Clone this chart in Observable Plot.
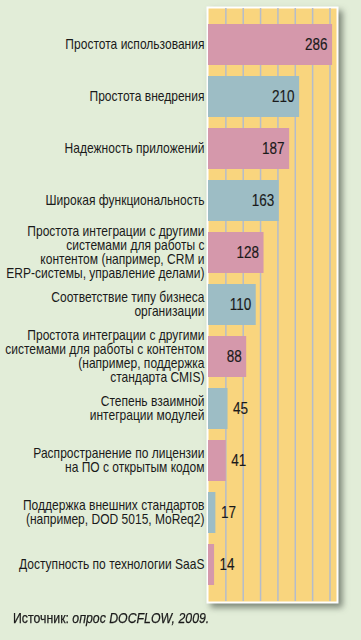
<!DOCTYPE html>
<html>
<head>
<meta charset="utf-8">
<script src="https://cdn.jsdelivr.net/npm/d3@7"></script>
<script src="https://cdn.jsdelivr.net/npm/@observablehq/plot@0.6"></script>
<style>
  html, body { margin: 0; padding: 0; background: #e2edd8; }
  body { width: 361px; height: 640px; overflow: hidden; font-family: "Liberation Sans", Arial, sans-serif; }
  #chart svg { display: block; overflow: visible; }
  #caption { margin: 4px 0 0 13px; font-size: 15px; line-height: 16px; color: #1a1a1a; white-space: nowrap; transform: scaleX(0.82); transform-origin: 0 0; -webkit-text-stroke: 0.25px #1a1a1a; }
</style>
</head>
<body>
<div id="chart"></div>
<div id="caption">Источник: <i>опрос DOCFLOW, 2009.</i></div>
<script>
const categories = [
  "Простота использования",
  "Простота внедрения",
  "Надежность приложений",
  "Широкая функциональность",
  "Простота интеграции с другими\nсистемами для работы с\nконтентом (например, CRM и\nERP-системы, управление делами)",
  "Соответствие типу бизнеса\nорганизации",
  "Простота интеграции с другими\nсистемами для работы с контентом\n(например, поддержка\nстандарта CMIS)",
  "Степень взаимной\nинтеграции модулей",
  "Распространение по лицензии\nна ПО с открытым кодом",
  "Поддержка внешних стандартов\n(например, DOD 5015, MoReq2)",
  "Доступность по технологии SaaS"
];
const values = [286, 210, 187, 163, 128, 110, 88, 45, 41, 17, 14];
const gridTicks = [40, 80, 120, 160, 200, 240, 280];

const PINK = "#d598ab", BLUE = "#9dbdc5", YELLOW = "#f9d57e", GRID = "#b4bccb";
const data = categories.map((c, i) => ({category: c, value: values[i], idx: i}));
const inside = d => d.value >= 80;
const FONT = "'Liberation Sans', Arial, sans-serif";

const chart = Plot.plot({
  width: 361,
  height: 606,
  marginLeft: 208,
  marginRight: 25,
  marginTop: 8,
  marginBottom: 5,
  style: {background: "transparent", fontFamily: FONT, color: "#1a1a1a"},
  x: {domain: [0, 295], axis: null},
  y: {domain: categories, paddingInner: 0.2075, paddingOuter: 0.2, label: null},
  marks: [
    Plot.frame({fill: YELLOW, stroke: "white", strokeWidth: 2, inset: -1}),
    Plot.ruleX(gridTicks, {stroke: GRID, strokeWidth: 1.5}),
    Plot.barX(data, {x: "value", y: "category", fill: d => d.idx % 2 ? BLUE : PINK}),
    Plot.axisY({tickSize: 0, tickPadding: 4, fontSize: 14, lineHeight: 1.0, label: null, stroke: "#1a1a1a", strokeWidth: 0.3}),
    Plot.text(data.filter(inside), {x: "value", y: "category", text: d => String(d.value), textAnchor: "end", dx: -5, fontSize: 16.5, fill: "#1a1a1a", stroke: "#1a1a1a", strokeWidth: 0.15}),
    Plot.text(data.filter(d => !inside(d)), {x: "value", y: "category", text: d => String(d.value), textAnchor: "start", dx: 5, fontSize: 16.5, fill: "#1a1a1a", stroke: "#1a1a1a", strokeWidth: 0.15})
  ]
});
document.getElementById("chart").appendChild(chart);
const fr = chart.querySelector('[aria-label="frame"]');
if (fr) fr.style.filter = "drop-shadow(4px 4px 3px rgba(40,50,40,0.55))";

// condense the text horizontally (the reference uses a condensed face)
function condense(sel, s) {
  chart.querySelectorAll(sel).forEach(t => {
    const tr = t.getAttribute("transform") || "";
    t.setAttribute("transform", (tr + ` scale(${s},1)`).trim());
  });
}
condense('[aria-label="y-axis tick label"] text', 0.86);
condense('[aria-label="text"] text', 0.82);
</script>
</body>
</html>
